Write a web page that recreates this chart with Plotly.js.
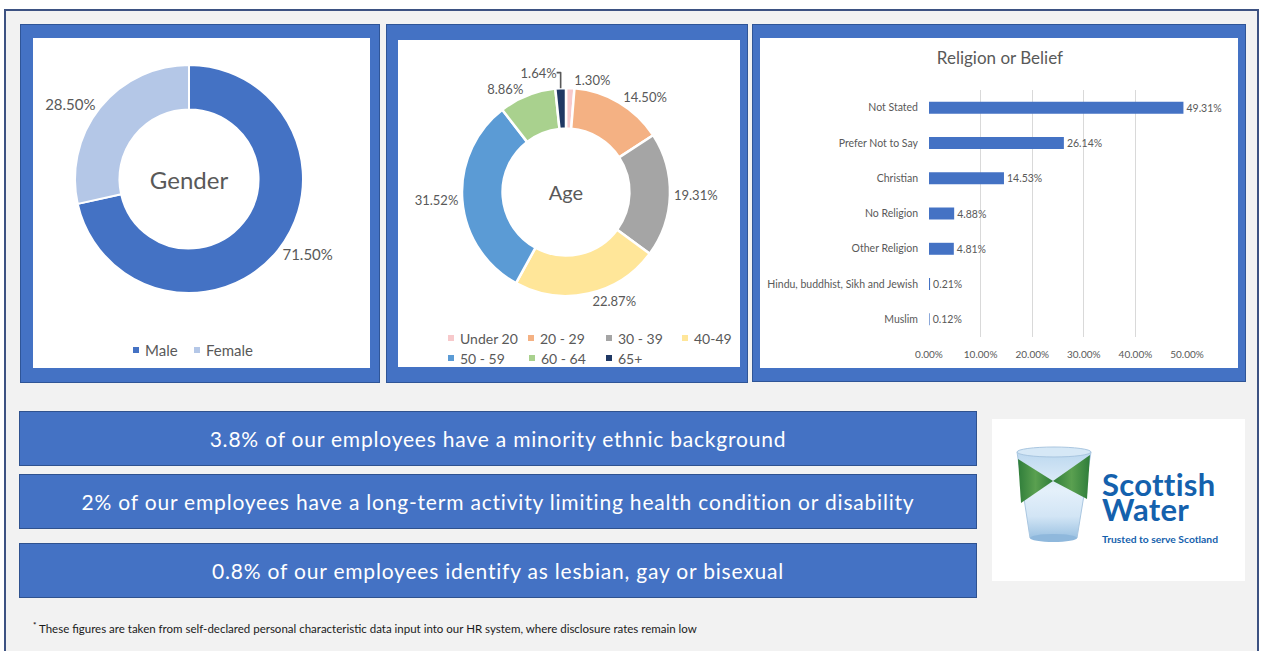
<!DOCTYPE html>
<html><head><meta charset="utf-8">
<script src="https://cdn.plot.ly/plotly-3.0.1.min.js"></script>
<style>
body{margin:0;width:1261px;height:651px;overflow:hidden;background:#fff;font-family:Lato,"Open Sans",sans-serif;position:relative}
#frame{position:absolute;left:4px;top:9px;width:1255px;height:660px;border:2px solid #3d5282;background:#f2f2f2;box-sizing:border-box}
.panel{position:absolute;background:#4472c4;box-shadow:inset 0 0 0 1px #2f5597}
.inner{position:absolute;background:#fff}
.banner{position:absolute;left:19px;width:958px;height:55px;background:#4472c4;border:1px solid #2f528f;box-sizing:border-box;color:#fff;font-size:21px;letter-spacing:0.8px;display:flex;align-items:center;justify-content:center;white-space:nowrap}
#foot{position:absolute;left:33px;top:620px;font-size:11.5px;color:#1a1a1a;white-space:nowrap}
#foot sup{font-size:8px;font-weight:bold}
#brand{position:absolute;left:110px;top:53px;width:125px;font-family:Lato,sans-serif;font-weight:bold;font-size:31px;line-height:25px;color:#1461ad;letter-spacing:0.3px}
</style>
</head><body>
<div id="frame"></div>
<div class="panel" style="left:20px;top:24px;width:360px;height:359px"></div>
<div class="inner" style="left:33px;top:38px;width:337px;height:330px" id="gender"></div>
<div class="panel" style="left:386px;top:24px;width:362px;height:359px"></div>
<div class="inner" style="left:398px;top:40px;width:342px;height:327px" id="age"></div>
<div class="panel" style="left:752px;top:24px;width:494px;height:358px"></div>
<div class="inner" style="left:760px;top:38px;width:478px;height:330px" id="religion"></div>

<div class="banner" style="top:411px">3.8% of our employees have a minority ethnic background</div>
<div class="banner" style="top:474px">2% of our employees have a long-term activity limiting health condition or disability</div>
<div class="banner" style="top:543px">0.8% of our employees identify as lesbian, gay or bisexual</div>

<div id="logo" style="position:absolute;left:992px;top:419px;width:253px;height:162px;background:#fff">
<svg width="253" height="162" viewBox="0 0 253 162" style="position:absolute;left:0;top:0">
 <defs>
  <linearGradient id="gl" x1="0" y1="0" x2="0" y2="1">
   <stop offset="0" stop-color="#bcd8ef"/><stop offset="0.45" stop-color="#e4f0fa"/><stop offset="0.75" stop-color="#d2e5f5"/><stop offset="1" stop-color="#9cc2e2"/>
  </linearGradient>
  <linearGradient id="gg" x1="0" y1="0" x2="1" y2="0">
   <stop offset="0" stop-color="#2f7d3a"/><stop offset="0.5" stop-color="#5aa050"/><stop offset="1" stop-color="#2f7d3a"/>
  </linearGradient>
 </defs>
 <path d="M25,33 L99,33 L85,119 L38,119 Z" fill="url(#gl)" stroke="#a9c6e0" stroke-width="1"/>
 <path d="M26,40 L61,62 L29,84 Z" fill="url(#gg)"/>
 <path d="M98,36 L61,62 L95,80 Z" fill="url(#gg)"/>
 <ellipse cx="62" cy="33" rx="37" ry="5" fill="#d6e8f6" stroke="#a9c6e0" stroke-width="1"/>
 <ellipse cx="61.5" cy="119" rx="23.5" ry="4" fill="#8fb8dc"/>
 <text x="110" y="124" font-family="Lato" font-weight="bold" font-size="9" fill="#1461ad" textLength="116" lengthAdjust="spacingAndGlyphs">Trusted to serve Scotland</text>
</svg>
<div id="brand">Scottish Water</div>
</div>

<div id="foot"><sup>*</sup> These figures are taken from self-declared personal characteristic data input into our HR system, where disclosure rates remain low</div>

<script>
// ---------- data ----------
const genderLabels = ['Male', 'Female'];
const genderValues = [71.50, 28.50];
const genderColors = ['#4472c4', '#b4c7e7'];

const ageLabels = ['Under 20', '20 - 29', '30 - 39', '40-49', '50 - 59', '60 - 64', '65+'];
const ageValues = [1.30, 14.50, 19.31, 22.87, 31.52, 8.86, 1.64];
const ageColors = ['#f7c9cb', '#f4b183', '#a5a5a5', '#ffe699', '#5b9bd5', '#a9d18e', '#1f3864'];

const religionCats = ['Not Stated', 'Prefer Not to Say', 'Christian', 'No Religion', 'Other Religion', 'Hindu, buddhist, Sikh and Jewish', 'Muslim'];
const religionValues = [49.31, 26.14, 14.53, 4.88, 4.81, 0.21, 0.12];
const religionTicks = [0, 10, 20, 30, 40, 50];

// ---------- helpers ----------
const FONT = 'Lato, "Open Sans", sans-serif';
const GREY = '#595959';
const cfg = {staticPlot: true, displayModeBar: false};
function dom(cx, cy, r, W, H) {
  return {x: [(cx - r) / W, (cx + r) / W], y: [1 - (cy + r) / H, 1 - (cy - r) / H]};
}
function legend(labels, colors, xs, ys, W, H, size) {
  const shapes = [], ann = [];
  labels.forEach((l, i) => {
    const x = xs[i], y = ys[i];
    shapes.push({type: 'rect', xref: 'paper', yref: 'paper', x0: x / W, x1: (x + 6) / W,
      y0: 1 - (y + 3) / H, y1: 1 - (y - 3) / H, fillcolor: colors[i], line: {width: 0}});
    ann.push({xref: 'paper', yref: 'paper', x: (x + 10) / W, y: 1 - y / H, xanchor: 'left', yanchor: 'middle',
      text: l, showarrow: false, font: {size: size, color: GREY, family: FONT}});
  });
  return {shapes, ann};
}

// ---------- gender ----------
(function () {
  const W = 337, H = 330;
  const lg = legend(genderLabels, genderColors, [100, 161], [312, 312], W, H, 15);
  Plotly.newPlot('gender', [{
    type: 'pie', labels: genderLabels, values: genderValues, hole: 0.61, sort: false,
    direction: 'clockwise', rotation: 0,
    marker: {colors: genderColors, line: {color: '#fff', width: 2}},
    texttemplate: '%{value:.2f}%', textposition: 'outside',
    outsidetextfont: {size: 15, color: GREY, family: FONT},
    domain: dom(156, 141, 114, W, H), showlegend: false, hoverinfo: 'skip',
    title: {text: 'Gender', position: 'middle center', font: {size: 24, color: GREY, family: FONT}}
  }], {
    width: W, height: H, margin: {l: 0, r: 0, t: 0, b: 0},
    paper_bgcolor: '#fff', font: {family: FONT}, showlegend: false,
    shapes: lg.shapes, annotations: lg.ann
  }, cfg);
})();

// ---------- age ----------
(function () {
  const W = 342, H = 327;
  const lg = legend(ageLabels, ageColors, [50, 130, 208, 284, 50, 131, 208], [298, 298, 298, 298, 318, 318, 318], W, H, 14);
  Plotly.newPlot('age', [{
    type: 'pie', labels: ageLabels, values: ageValues, hole: 0.61, sort: false,
    direction: 'clockwise', rotation: 0,
    marker: {colors: ageColors, line: {color: '#fff', width: 2.5}},
    texttemplate: '%{value:.2f}%', textposition: 'outside',
    outsidetextfont: {size: 13, color: GREY, family: FONT},
    domain: dom(168, 152, 104, W, H), showlegend: false, hoverinfo: 'skip',
    title: {text: 'Age', position: 'middle center', font: {size: 20, color: GREY, family: FONT}}
  }], {
    width: W, height: H, margin: {l: 0, r: 0, t: 0, b: 0},
    paper_bgcolor: '#fff', font: {family: FONT}, showlegend: false,
    shapes: lg.shapes, annotations: lg.ann
  }, cfg);
})();

// ---------- religion ----------
(function () {
  const W = 478, H = 330;
  Plotly.newPlot('religion', [{
    type: 'bar', orientation: 'h', y: religionCats, x: religionValues,
    marker: {color: '#4472c4'},
    texttemplate: '%{x:.2f}%', textposition: 'outside', cliponaxis: false,
    textfont: {size: 10.5, color: GREY, family: FONT}, hoverinfo: 'skip'
  }], {
    width: W, height: H, margin: {l: 169, r: 51, t: 52, b: 31},
    paper_bgcolor: '#fff', plot_bgcolor: '#fff', font: {family: FONT, color: GREY},
    title: {text: 'Religion or Belief', x: 0.502, xanchor: 'center', xref: 'container',
      y: 1 - 20 / H, yanchor: 'middle', yref: 'container', font: {size: 17, color: GREY, family: FONT}},
    bargap: 0.66, showlegend: false,
    xaxis: {range: [0, 50], tickvals: religionTicks, ticktext: religionTicks.map(v => v.toFixed(2) + '%'),
      showgrid: true, gridcolor: '#d9d9d9', gridwidth: 1, zeroline: false, showline: false,
      ticks: '', ticklabelstandoff: 10, tickfont: {size: 10, color: GREY, family: FONT}},
    yaxis: {type: 'category', autorange: 'reversed', showgrid: false, zeroline: false, showline: false,
      ticks: '', ticklabelstandoff: 10, tickfont: {size: 10.5, color: GREY, family: FONT}}
  }, cfg);
})();
</script>
</body></html>
